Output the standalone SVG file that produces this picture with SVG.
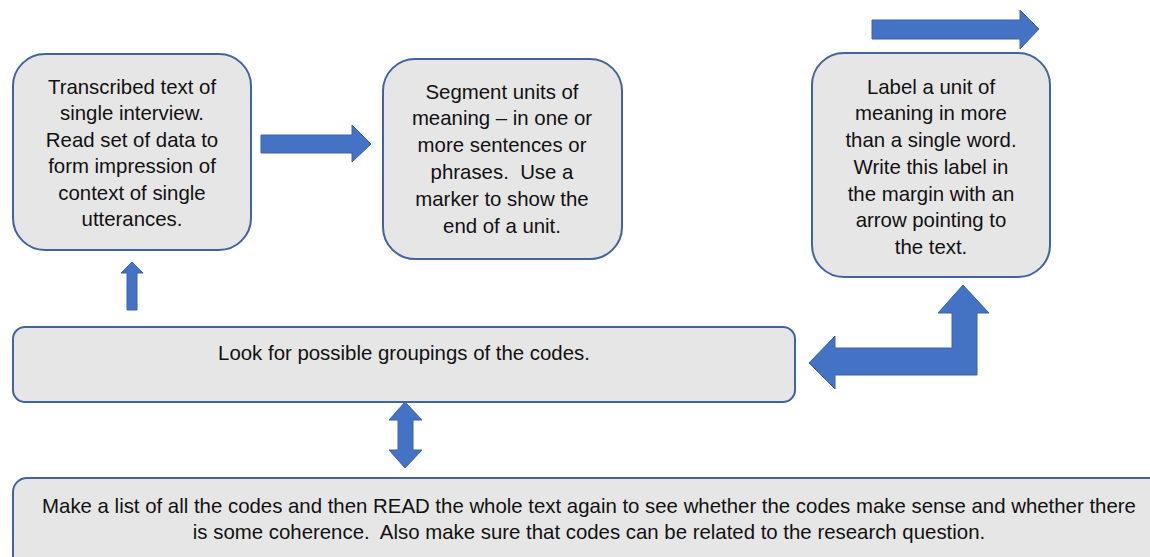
<svg xmlns="http://www.w3.org/2000/svg" width="1150" height="557" viewBox="0 0 1150 557">
<style>
.box{fill:#E7E6E6;stroke:#41649E;stroke-width:2}
.arr{fill:#4472C4;stroke:#3A62A8;stroke-width:1}
text{font-family:"Liberation Sans",Arial,sans-serif;font-size:20.4px;fill:#111111;text-anchor:middle;white-space:pre}
</style>
<rect width="1150" height="557" fill="#ffffff"/>
<g id="connectors">
<polygon class="arr" points="261,135 352,135 352,125 371,144 352,162 352,153 261,153"/>
<polygon class="arr" points="872,20 1020,20 1020,10 1039,29 1020,49 1020,39 872,39"/>
<polygon class="arr" points="127,310 127,273 121,273 132,262 143,273 137,273 137,310"/>
<polygon class="arr" points="835,348 952,348 952,313 938,313 963,285 989,313 977,313 977,375 835,375 835,389 809,363 835,336"/>
<polygon class="arr" points="405,402 422,420 413,420 413,450 422,450 405,468 389,450 398,450 398,420 389,420"/>
</g>
<g id="node1">
<rect class="box" x="13" y="54" width="238" height="196" rx="32"/>
<text x="132" y="94">Transcribed text of</text>
<text x="132" y="120">single interview.</text>
<text x="132" y="147">Read set of data to</text>
<text x="132" y="173">form impression of</text>
<text x="132" y="200">context of single</text>
<text x="132" y="226">utterances.</text>
</g>
<g id="node2">
<rect class="box" x="383" y="59" width="239" height="200" rx="32"/>
<text x="502" y="99">Segment units of</text>
<text x="502" y="125">meaning – in one or</text>
<text x="502" y="152">more sentences or</text>
<text x="502" y="179">phrases.  Use a</text>
<text x="502" y="206">marker to show the</text>
<text x="502" y="233">end of a unit.</text>
</g>
<g id="node3">
<rect class="box" x="812" y="53" width="238" height="224" rx="32"/>
<text x="931" y="94">Label a unit of</text>
<text x="931" y="120">meaning in more</text>
<text x="931" y="147">than a single word.</text>
<text x="931" y="174">Write this label in</text>
<text x="931" y="201">the margin with an</text>
<text x="931" y="227">arrow pointing to</text>
<text x="931" y="254">the text.</text>
</g>
<g id="node4">
<rect class="box" x="13" y="327" width="782" height="75" rx="12"/>
<text x="404" y="360">Look for possible groupings of the codes.</text>
</g>
<g id="node5">
<rect class="box" x="13" y="478" width="1160" height="100" rx="14"/>
<text x="589" y="513">Make a list of all the codes and then READ the whole text again to see whether the codes make sense and whether there</text>
<text x="589" y="539">is some coherence.  Also make sure that codes can be related to the research question.</text>
</g>
</svg>
